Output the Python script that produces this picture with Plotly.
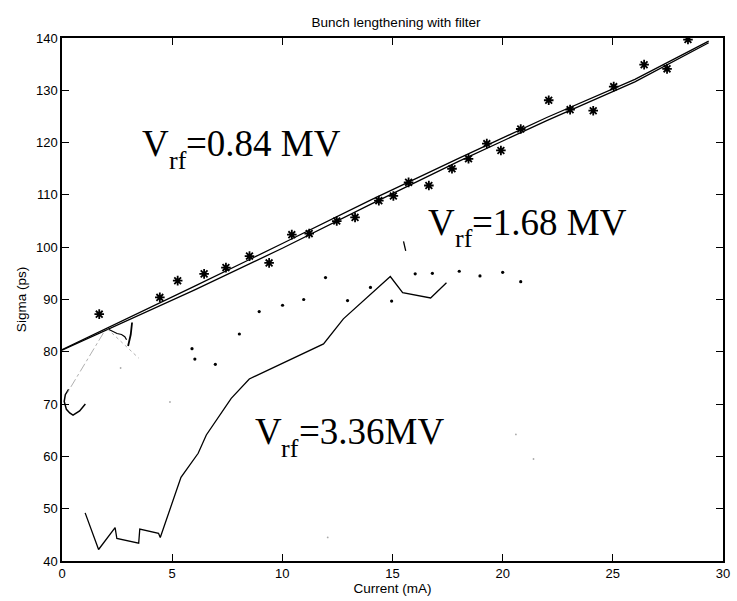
import plotly.graph_objects as go

# ---------------- data ----------------
# measured bunch length (asterisks), Vrf = 0.84 MV
meas_x = [1.69, 4.44, 5.25, 6.45, 7.44, 8.51, 9.40, 10.43, 11.22, 12.47, 13.30,
          14.38, 15.04, 15.73, 16.65, 17.70, 18.45, 19.28, 19.92, 20.82, 22.09,
          23.06, 24.11, 25.04, 26.42, 27.46, 28.41]
meas_y = [87.2, 90.4, 93.6, 94.9, 96.1, 98.3, 97.0, 102.4, 102.6, 105.0, 105.7,
          108.9, 109.8, 112.4, 111.8, 115.0, 116.9, 119.8, 118.5, 122.6, 128.1,
          126.3, 126.1, 130.7, 134.9, 134.1, 139.7]

# simulated curves (two nearly coincident lines), Vrf = 0.84 MV
sim_x = [0, 3, 6, 10, 14, 18, 22, 26, 29.35]
sim_a_y = [80.4, 86.4, 92.5, 100.7, 109.0, 117.0, 124.8, 132.1, 139.4]
sim_b_y = [80.3, 86.0, 91.8, 99.8, 108.2, 116.4, 124.2, 131.6, 139.1]

# dotted series, Vrf = 1.68 MV
dots_x = [5.90, 6.03, 6.96, 8.05, 8.95, 10.01, 10.97, 11.96, 12.96, 14.00,
          14.96, 16.03, 16.81, 18.03, 18.97, 20.00, 20.82]
dots_y = [80.6, 78.6, 77.6, 83.4, 87.7, 88.9, 90.0, 94.2, 89.8, 92.3,
          89.7, 94.9, 95.0, 95.4, 94.5, 95.2, 93.4]

# solid curve, Vrf = 3.36 MV
hv_x = [1.05, 1.66, 2.41, 2.49, 3.48, 3.53, 4.38, 4.46, 5.40, 6.18, 6.55,
        7.68, 8.50, 11.87, 12.77, 14.90, 15.46, 16.73, 17.45]
hv_y = [49.2, 42.2, 46.4, 44.3, 43.4, 46.1, 45.3, 44.5, 56.0, 60.6, 64.1,
        71.1, 74.8, 81.5, 86.3, 94.4, 91.3, 90.3, 93.2]

# small stray strokes near the origin
curl_x = [0.30, 0.15, 0.10, 0.20, 0.35, 0.50, 0.80, 1.06]
curl_y = [72.8, 71.8, 70.5, 69.0, 68.3, 67.9, 68.7, 70.0]
hook_x = [2.06, 2.30, 2.50, 2.70, 2.85, 2.93]
hook_y = [84.4, 83.9, 83.5, 83.3, 82.9, 82.3]
stroke_x = [3.18, 3.12, 3.00]
stroke_y = [85.6, 83.3, 81.1]
tick_x = [15.50, 15.60]
tick_y = [101.1, 99.3]
gray1_x = [2.06, 3.48]
gray1_y = [84.4, 78.8]
gray2_x = [1.88, 0.19]
gray2_y = [83.6, 71.8]
speck_x = [2.66, 4.90, 12.06, 20.6, 21.4]
speck_y = [76.9, 70.4, 44.5, 64.2, 59.5]

x_ticks = [0, 5, 10, 15, 20, 25, 30]
y_ticks = [40, 50, 60, 70, 80, 90, 100, 110, 120, 130, 140]

# ---------------- figure ----------------
W, H = 737, 601
ML, MR, MT, MB = 62, 7, 38, 40
X0, X1, Y0, Y1 = 0, 30, 40, 140

fig = go.Figure()
blk = "black"

def line(x, y, width=1.2, color=blk, dash="solid"):
    fig.add_trace(go.Scatter(x=x, y=y, mode="lines",
                             line=dict(color=color, width=width, dash=dash),
                             hoverinfo="skip", showlegend=False))

line(sim_x, sim_a_y, 1.3)
line(sim_x, sim_b_y, 1.3)
line(hv_x, hv_y, 1.3)
line(curl_x, curl_y, 1.5)
line(hook_x, hook_y, 1.2)
line(stroke_x, stroke_y, 1.8)
line(tick_x, tick_y, 1.3)
line(gray1_x, gray1_y, 0.8, "#9a9a9a", "dot")
line(gray2_x, gray2_y, 0.8, "#9a9a9a", "dashdot")

fig.add_trace(go.Scatter(x=meas_x, y=meas_y, mode="markers",
                         marker=dict(symbol="asterisk-open", size=8, color=blk,
                                     line=dict(color=blk, width=1.8)),
                         hoverinfo="skip", showlegend=False))
fig.add_trace(go.Scatter(x=dots_x, y=dots_y, mode="markers",
                         marker=dict(symbol="circle", size=3.2, color=blk),
                         hoverinfo="skip", showlegend=False))
fig.add_trace(go.Scatter(x=speck_x, y=speck_y, mode="markers",
                         marker=dict(symbol="circle", size=1.8, color="#aaaaaa"),
                         hoverinfo="skip", showlegend=False))

# ---------------- labels (Vrf annotations) ----------------
pw = W - ML - MR
ph = H - MT - MB

def px2x(px):
    return X0 + (px - ML) / pw * (X1 - X0)

def py2y(py):
    return Y1 - (py - MT) / ph * (Y1 - Y0)

FS, SFS = 37, 26
serif = "Liberation Serif, Times New Roman, serif"
annos = []

def vlabel(left, base, rest):
    asc = 0.3375
    annos.append(dict(x=px2x(left), y=py2y(base - asc * FS), xref="x", yref="y",
                      text="V", showarrow=False, xanchor="left", yanchor="middle",
                      font=dict(family=serif, size=FS, color=blk),
                      borderpad=0, borderwidth=0))
    l2 = left + 0.722 * FS
    annos.append(dict(x=px2x(l2), y=py2y(base + 13 - asc * SFS), xref="x", yref="y",
                      text="rf", showarrow=False, xanchor="left", yanchor="middle",
                      font=dict(family=serif, size=SFS, color=blk),
                      borderpad=0, borderwidth=0))
    l3 = l2 + 0.666 * SFS
    annos.append(dict(x=px2x(l3), y=py2y(base - asc * FS), xref="x", yref="y",
                      text=rest, showarrow=False, xanchor="left", yanchor="middle",
                      font=dict(family=serif, size=FS, color=blk),
                      borderpad=0, borderwidth=0))

vlabel(143, 156, "=0.84 MV")
vlabel(432, 234.5, "=1.68 MV")
vlabel(257, 444, "=3.36MV")

sans = "Liberation Sans, Arial, Helvetica, sans-serif"
fig.update_layout(
    width=W, height=H,
    margin=dict(l=ML, r=MR, t=MT, b=MB, pad=0),
    paper_bgcolor="white", plot_bgcolor="white",
    font=dict(family=sans, size=13, color=blk),
    title=dict(text="Bunch lengthening with filter", x=(ML + pw / 2) / W,
               xanchor="center", y=1 - 22 / H, yanchor="middle",
               font=dict(family=sans, size=13.5, color=blk)),
    annotations=annos,
    showlegend=False,
)
fig.update_xaxes(range=[X0, X1], tickvals=x_ticks, ticks="inside", ticklen=7,
                 tickwidth=1.2, tickcolor=blk, showline=True, linecolor=blk,
                 linewidth=1.5, mirror="ticks", showgrid=False, zeroline=False,
                 tickfont=dict(size=13),
                 title=dict(text="Current (mA)", standoff=2,
                            font=dict(size=13.5)))
fig.update_yaxes(range=[Y0, Y1], tickvals=y_ticks, ticks="inside", ticklen=7,
                 tickwidth=1.2, tickcolor=blk, showline=True, linecolor=blk,
                 linewidth=1.5, mirror="ticks", showgrid=False, zeroline=False,
                 tickfont=dict(size=13),
                 title=dict(text="Sigma (ps)", standoff=6,
                            font=dict(size=13.5)))

fig.write_html("out.html")
